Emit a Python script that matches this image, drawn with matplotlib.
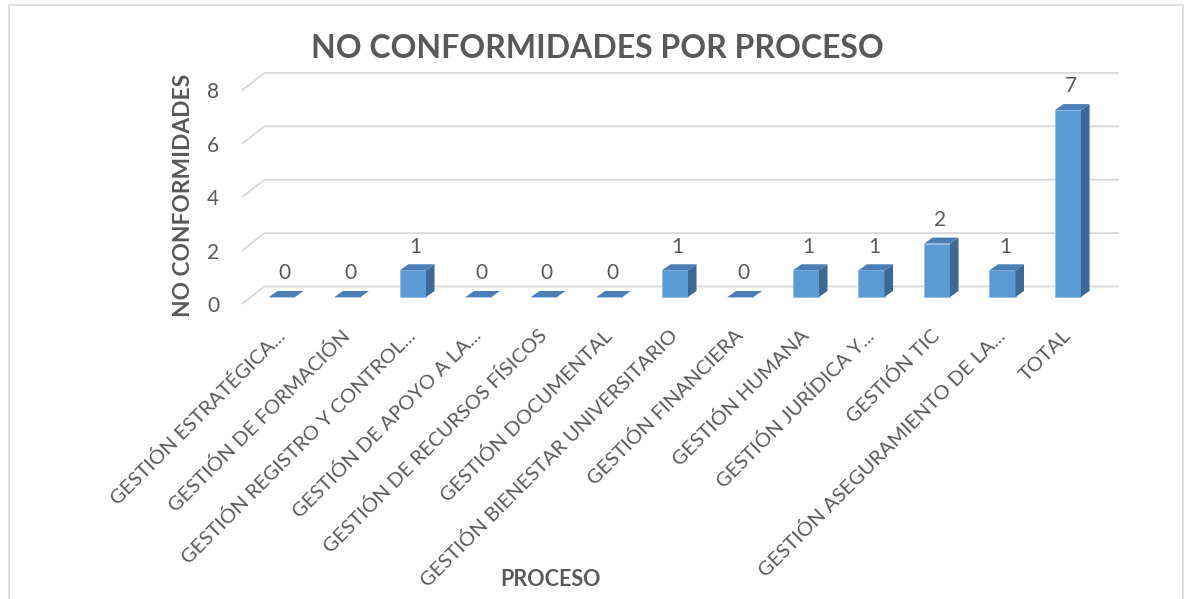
import numpy as np
import matplotlib
matplotlib.use("Agg")
from matplotlib import pyplot as plt
from matplotlib.patches import Rectangle

# DATA

procesos = [
    "GESTIÓN ESTRATÉGICA...",
    "GESTIÓN DE FORMACIÓN",
    "GESTIÓN REGISTRO Y CONTROL...",
    "GESTIÓN DE APOYO A LA...",
    "GESTIÓN DE RECURSOS FÍSICOS",
    "GESTIÓN DOCUMENTAL",
    "GESTIÓN BIENESTAR UNIVERSITARIO",
    "GESTIÓN FINANCIERA",
    "GESTIÓN HUMANA",
    "GESTIÓN JURÍDICA Y...",
    "GESTIÓN TIC",
    "GESTIÓN ASEGURAMIENTO DE LA...",
    "TOTAL",
]
no_conformidades = [0, 0, 1, 0, 0, 0, 1, 0, 1, 1, 2, 1, 7]
y_ticks = [0, 2, 4, 6, 8]

# STYLE

plt.rcParams['font.family'] = ['Lato', 'DejaVu Sans']
gris = '#595959'
c_front = '#5B9BD5'
c_side = '#3D6893'
c_top = '#4A7EB5'
c_grid = '#D9D9D9'

W, H = 1189, 599
fig = plt.figure(figsize=(W / 100, H / 100), dpi=100)

# axes placed so that one category = 65.5 px and one unit = 26.7 px
x0, x1 = -0.62, 12.85
y0, y1 = -0.3, 8.5
left_px = 282 + 65.5 * x0
right_px = 282 + 65.5 * x1
bot_px = 297 - 26.7 * y0
top_px = 297 - 26.7 * y1
ax = fig.add_axes([left_px / W, 1 - bot_px / H,
                   (right_px - left_px) / W, (bot_px - top_px) / H])
ax.set_xlim(x0, x1)
ax.set_ylim(y0, y1)
ax.patch.set_alpha(0)
for s in ax.spines.values():
  s.set_visible(False)

# 3D-ish walls: front edge a bit lower/left, back edge higher/right
front_x, front_dy = -0.611, -0.262
back_x, back_dy, back_end = -0.267, 0.393, 12.78
for v in y_ticks:
  ax.plot([front_x, back_x, back_end], [v + front_dy, v + back_dy, v + back_dy],
          color=c_grid, lw=1.3, zorder=1, clip_on=False, solid_capstyle='butt')

# bars
x = np.arange(len(procesos))
vals = np.array(no_conformidades, dtype=float)
w = 0.397
ddx, ddy = 0.13, 0.225
ax.bar(x, vals, width=w, color=c_front, edgecolor='#8DB9E2', linewidth=0.5, zorder=3)
for xi, v in zip(x, vals):
  xl, xr = xi - w / 2, xi + w / 2
  if v > 0:
    ax.fill([xr, xr + ddx, xr + ddx, xr], [0, ddy, v + ddy, v],
            color=c_side, zorder=3, lw=0)
  ax.fill([xl, xl + ddx, xr + ddx, xr], [v, v + ddy, v + ddy, v],
          color=c_top, zorder=3, lw=0)
  ax.annotate(f"{int(v)}", (xi, v), xytext=(2, 17), textcoords='offset points',
              ha='center', va='center', fontsize=15, color=gris)

# ticks
ax.set_yticks([v + front_dy for v in y_ticks], [str(v) for v in y_ticks])
ax.tick_params(axis='y', length=0, pad=16, labelsize=15, labelcolor=gris)
ax.set_xticks(x, procesos, rotation=45, ha='right', va='center',
              rotation_mode='anchor')
ax.tick_params(axis='x', length=0, pad=20, labelsize=14.6, labelcolor=gris)

# titles
fig.text(597 / W, 1 - 48 / H, "NO CONFORMIDADES POR PROCESO", ha='center',
         va='center', fontsize=23, fontweight='bold', color=gris)
fig.text(183 / W, 1 - 195 / H, "NO CONFORMIDADES", rotation=90, ha='center',
         va='center', fontsize=16.4, fontweight='bold', color=gris)
fig.text(550 / W, 1 - 580 / H, "PROCESO", ha='center', va='center',
         fontsize=15.5, fontweight='bold', color=gris)

# chart border
fig.patches.append(Rectangle((9 / W, -0.05), (1183 - 9) / W, 1.05 - 5 / H,
                             transform=fig.transFigure, fill=False,
                             edgecolor=c_grid, lw=1.2))

fig.savefig('out.png', dpi=100)
